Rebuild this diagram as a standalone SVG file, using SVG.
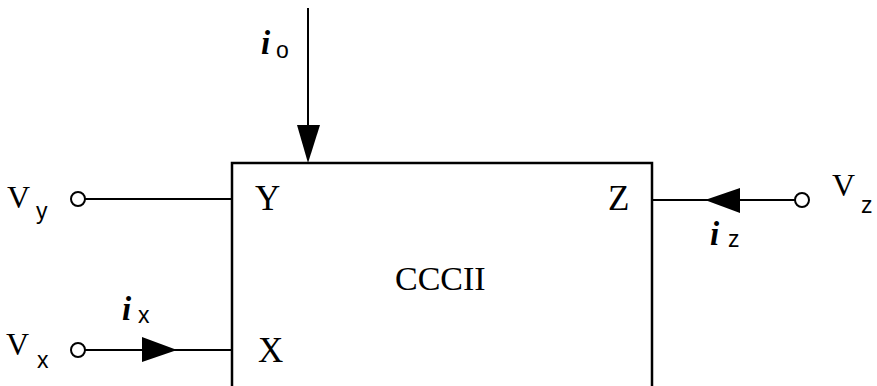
<svg xmlns="http://www.w3.org/2000/svg" width="877" height="386" viewBox="0 0 877 386">
<style>
.ln{stroke:#000;stroke-width:2;fill:none}
.box{stroke:#000;stroke-width:2.5;fill:none}
.term{stroke:#000;stroke-width:2;fill:#fff}
.ah{fill:#000;stroke:none}
.big{font-family:"Liberation Serif",serif;font-size:35px;fill:#000}
.v{font-family:"Liberation Serif",serif;font-size:32px;fill:#000}
.it{font-family:"Liberation Serif",serif;font-style:italic;font-weight:bold;font-size:33px;fill:#000}
.sub{font-family:"Liberation Sans",sans-serif;font-size:23px;fill:#000}
</style>
<g id="cccii">
<path class="box" d="M232,386 V163 H652 V386"/>
<text class="big" x="255" y="210">Y</text>
<text class="big" x="258" y="362">X</text>
<text class="big" x="608" y="210">Z</text>
<text class="big" x="395" y="290" style="font-size:34px">CCCII</text>
</g>
<g id="connectors">
<line class="ln" x1="308" y1="8" x2="308" y2="140"/>
<polygon class="ah" points="297,125 320,125 308,163"/>
<line class="ln" x1="85" y1="199" x2="232" y2="199"/>
<line class="ln" x1="85" y1="350" x2="232" y2="350"/>
<polygon class="ah" points="142,337 142,362 177,350"/>
<line class="ln" x1="652" y1="200" x2="795" y2="200"/>
<polygon class="ah" points="740,188 740,213 705,200"/>
</g>
<g id="vy">
<circle class="term" cx="78" cy="199" r="7"/>
<text class="v" x="7" y="208">V</text>
<text class="sub" x="36" y="219">y</text>
</g>
<g id="vx">
<circle class="term" cx="78" cy="350" r="7"/>
<text class="v" x="6" y="355">V</text>
<text class="sub" x="37" y="368">x</text>
</g>
<g id="vz">
<circle class="term" cx="802" cy="200" r="7"/>
<text class="v" x="832" y="196">V</text>
<text class="sub" x="861" y="213">z</text>
</g>
<g id="io">
<text class="it" x="261" y="54">i</text>
<text class="sub" x="276" y="58">o</text>
</g>
<g id="ix">
<text class="it" x="122" y="320">i</text>
<text class="sub" x="138" y="323">x</text>
</g>
<g id="iz">
<text class="it" x="710" y="245">i</text>
<text class="sub" x="728" y="247">z</text>
</g>
</svg>
